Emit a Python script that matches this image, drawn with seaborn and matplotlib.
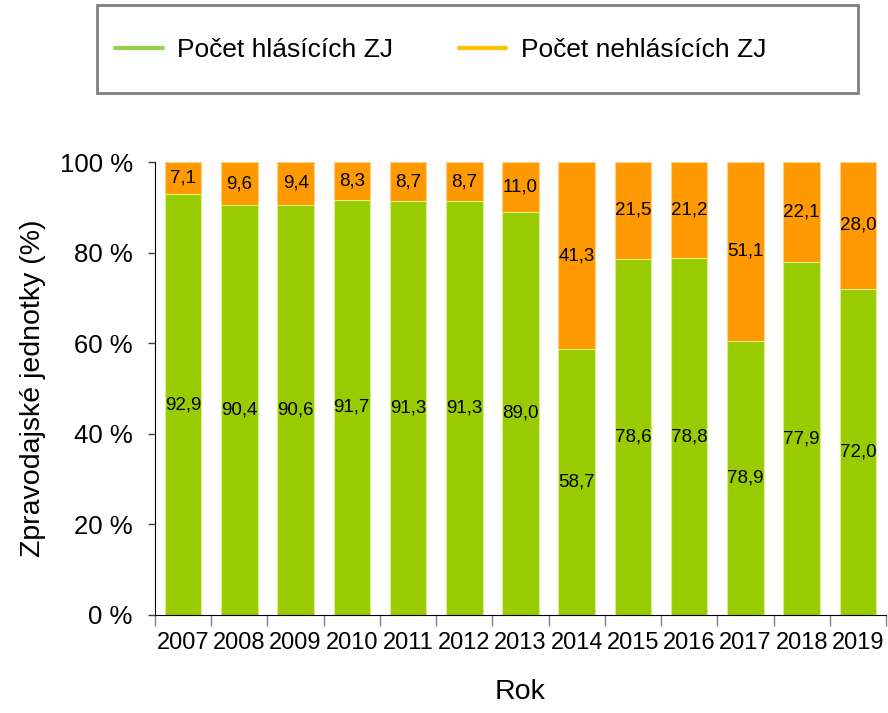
import pandas as pd
import matplotlib.pyplot as plt
import seaborn as sns
from matplotlib.lines import Line2D
from matplotlib.patches import Rectangle

# data
years = ['2007', '2008', '2009', '2010', '2011', '2012', '2013',
         '2014', '2015', '2016', '2017', '2018', '2019']
green_height = [92.9, 90.4, 90.6, 91.7, 91.3, 91.3, 89.0,
                58.7, 78.6, 78.8, 60.5, 77.9, 72.0]
green_labels = ['92,9', '90,4', '90,6', '91,7', '91,3', '91,3', '89,0',
                '58,7', '78,6', '78,8', '78,9', '77,9', '72,0']
orange_labels = ['7,1', '9,6', '9,4', '8,3', '8,7', '8,7', '11,0',
                 '41,3', '21,5', '21,2', '51,1', '22,1', '28,0']
total = [100] * len(years)
ytick_vals = [0, 20, 40, 60, 80, 100]
ytick_labels = ['0 %', '20 %', '40 %', '60 %', '80 %', '100 %']

df = pd.DataFrame({'rok': years, 'zj': green_height, 'celkem': total})

sns.set_style('white')
plt.rcParams['font.family'] = ['Liberation Sans', 'DejaVu Sans']
plt.rcParams['text.color'] = 'black'
plt.rcParams['axes.labelcolor'] = 'black'
plt.rcParams['xtick.color'] = 'black'
plt.rcParams['ytick.color'] = 'black'

fig = plt.figure(figsize=(8.88, 7.13), dpi=100)
ax = fig.add_axes([155 / 888, 1 - 615 / 713, 731 / 888, 453 / 713])

# orange = full bar behind, green on top
sns.barplot(x='rok', y='celkem', data=df, color='#FF9900', width=0.65,
            edgecolor='#FFD080', linewidth=0.8, saturation=1, ax=ax)
sns.barplot(x='rok', y='zj', data=df, color='#99CC00', width=0.65,
            edgecolor='#D8EE90', linewidth=0.8, saturation=1, ax=ax)

for i in range(len(years)):
    g = green_height[i]
    ax.text(i, g / 2, green_labels[i], ha='center', va='center', fontsize=13.5)
    ax.text(i, (g + 100) / 2, orange_labels[i], ha='center', va='center', fontsize=13.5)

ax.set_ylim(0, 100)
ax.set_xlim(-0.5, len(years) - 0.5)
ax.set_yticks(ytick_vals)
ax.set_yticklabels(ytick_labels, fontsize=18.5)
ax.tick_params(axis='y', length=5, width=1, color='#404040', left=True, pad=11)
ax.set_xticks(range(len(years)))
ax.set_xticklabels(years, fontsize=17)
ax.set_xticks([i - 0.5 for i in range(len(years) + 1)], minor=True)
ax.tick_params(axis='x', which='major', length=0, pad=12)
ax.tick_params(axis='x', which='minor', length=8, width=1, color='#808080', bottom=True)

sns.despine(ax=ax)
ax.spines['left'].set_color('#000000')
ax.spines['bottom'].set_color('#000000')

ax.set_xlabel('Rok', fontsize=20.5, labelpad=18)
ax.set_ylabel('Zpravodajské jednotky (%)', fontsize=20.5, labelpad=10)

# legend box
fig.patches.append(Rectangle((97 / 888, 1 - 93 / 713), 761 / 888, 88 / 713,
                             transform=fig.transFigure, fill=False,
                             edgecolor='#808080', linewidth=2))
handles = [Line2D([0], [0], color='#92D050', lw=3),
           Line2D([0], [0], color='#FFC000', lw=3)]
fig.legend(handles, ['Počet hlásících ZJ', 'Počet nehlásících ZJ'],
           loc='center left', ncol=2, fontsize=19, frameon=False,
           bbox_to_anchor=(115 / 888, 1 - 50 / 713),
           handlelength=1.8, handletextpad=0.55, columnspacing=2.5,
           borderpad=0, borderaxespad=0)

plt.savefig('out.png', dpi=100)
